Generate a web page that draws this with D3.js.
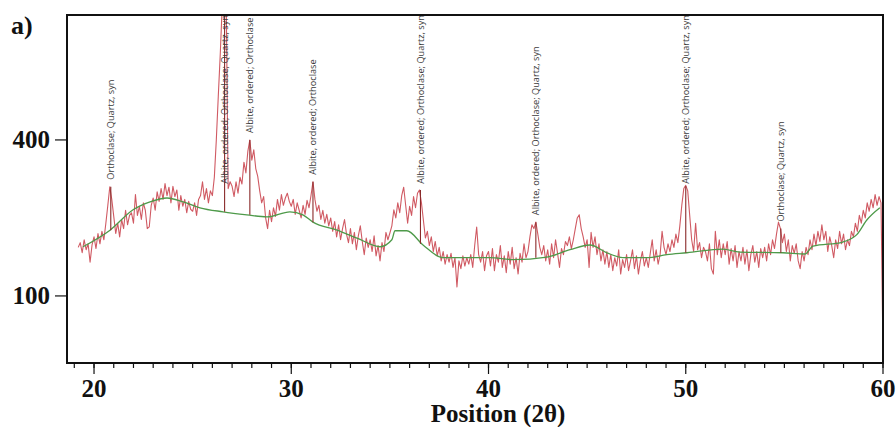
<!DOCTYPE html>
<html>
<head>
<meta charset="utf-8">
<script src="https://cdn.jsdelivr.net/npm/d3@7/dist/d3.min.js"></script>
<style>
  body { margin: 0; background: #fff; }
  svg { display: block; }
</style>
</head>
<body>
<svg id="chart" width="896" height="427"></svg>
<script>
// Scan grid (°2θ) and measured counts, one row per degree
const scanStart = 19.2;
const scanStep = 0.1;
const counts = [
  172,180,163,185,168,178,148,176,                 // 19.2–19.9
  190,170,196,178,200,185,215,250,289,262,         // 20
  228,196,215,190,222,205,240,212,230,235,         // 21
  215,272,230,248,222,255,240,205,208,250,         // 22
  265,240,278,258,285,262,296,270,288,255,         // 23
  290,268,282,240,270,248,262,235,258,242,         // 24
  238,255,230,262,270,300,262,285,255,280,         // 25
  270,310,400,520,650,820,1150,850,285,300,        // 26
  290,268,300,275,310,295,345,320,372,400,         // 27
  350,375,330,312,280,255,268,225,205,240,         // 28
  218,245,228,262,240,272,250,265,275,258,         // 29
  248,262,232,255,240,225,250,232,260,245,         // 30
  270,300,262,238,250,222,240,215,232,210,         // 31
  225,200,218,190,212,185,205,222,195,180,         // 32
  205,178,198,168,192,210,182,160,188,172,         // 33
  185,165,192,158,175,150,180,165,198,185,         // 34
  197,210,241,225,255,235,270,288,250,215,         // 35
  248,230,268,245,275,282,255,220,188,200,         // 36
  175,190,165,182,158,172,150,165,145,160,         // 37
  148,162,140,155,112,150,138,158,142,155,         // 38
  145,160,140,175,208,160,148,165,135,158,         // 39
  165,142,170,135,160,148,175,140,158,132,         // 40
  165,145,172,138,155,130,162,148,178,155,         // 41
  165,190,212,205,217,195,172,160,175,150,         // 42
  168,145,178,155,185,162,140,170,160,182,         // 43
  175,190,170,185,205,225,231,205,190,172,         // 44
  185,140,198,172,190,160,178,150,168,145,         // 45
  165,140,160,135,155,142,168,130,152,140,         // 46
  160,135,150,168,138,158,130,150,165,142,         // 47
  155,140,162,185,150,168,145,160,200,172,         // 48
  160,178,165,185,172,195,180,210,250,285,         // 49
  292,280,230,185,165,215,168,180,155,172,         // 50
  165,150,178,138,130,200,160,185,155,178,         // 51
  160,182,145,170,150,175,140,165,150,172,         // 52
  145,168,135,160,175,148,165,140,170,155,         // 53
  172,150,178,160,185,170,195,217,205,180,         // 54
  195,165,185,150,175,162,178,150,138,165,         // 55
  150,172,160,185,168,195,175,200,182,212,         // 56
  185,200,165,190,175,155,185,170,200,178,         // 57
  195,168,185,175,200,190,215,200,230,215,         // 58
  240,225,255,238,262,245,272,250,268,255,         // 59
  40                                               // 60
];

// Fitted background
const bgAngle  = [19.44,20.81,21.98,22.84,23.70,24.51,25.37,26.54,27.75,28.77,29.93,30.59,31.10,32.32,33.33,34.50,35.10,35.26,35.86,36.68,37.69,38.70,40.07,41.24,42.96,44.13,45.14,46.00,46.81,48.03,49.04,50.06,51.88,52.74,54.92,56.04,56.45,57.96,58.67,59.18,59.84];
const bgCounts = [173,202,241,257,265,257,245,237,231,227,237,231,217,202,188,173,185,201,201,176,155,155,155,152,156,168,176,163,155,155,160,163,169,164,163,161,174,181,194,221,245];

// Identified peaks
const peakAngle = [20.85, 26.62, 27.90, 31.10, 36.55, 42.40, 50.00, 54.82];
const peakTop   = [289, 1150, 400, 300, 282, 217, 290, 205];
const peakBase  = [202, 237, 231, 217, 178, 155, 163, 163];
const peakLabel = [
  "Orthoclase; Quartz, syn",
  "Albite, ordered; Orthoclase; Quartz, syn",
  "Albite, ordered; Orthoclase",
  "Albite, ordered; Orthoclase",
  "Albite, ordered; Orthoclase; Quartz, syn",
  "Albite, ordered; Orthoclase; Quartz, syn",
  "Albite, ordered; Orthoclase; Quartz, syn",
  "Orthoclase; Quartz, syn"
];

const xMajorTicks = [20, 30, 40, 50, 60];
const xMinorTicks = d3.range(19, 61, 1);
const yTicks = [100, 400];

const svg = d3.select("#chart");
const L = 67, R = 883, T = 15, B = 363;
const serif = "'Liberation Serif', 'Times New Roman', serif";

const x = d3.scaleLinear().domain([18.63, 60]).range([L, R]);
const y = d3.scaleSqrt().domain([32.5, 784.5]).range([B, T]);

svg.append("defs").append("clipPath").attr("id", "plotClip")
  .append("rect").attr("x", L).attr("y", T).attr("width", R - L).attr("height", B - T);

const plot = svg.append("g").attr("clip-path", "url(#plotClip)");

const scan = counts.map((c, i) => [scanStart + i * scanStep, c]);
const line = d3.line().x(d => x(d[0])).y(d => y(d[1]));

plot.append("path").datum(scan)
  .attr("d", line).attr("fill", "none")
  .attr("stroke", "#d05a63").attr("stroke-width", 1.1).attr("stroke-linejoin", "round");

plot.append("path").datum(bgAngle.map((a, i) => [a, bgCounts[i]]))
  .attr("d", d3.line().curve(d3.curveMonotoneX).x(d => x(d[0])).y(d => y(d[1])))
  .attr("fill", "none").attr("stroke", "#4e9a4a").attr("stroke-width", 1.3);

// Peak sticks
plot.selectAll("line.stick").data(peakAngle).join("line")
  .attr("class", "stick")
  .attr("x1", d => x(d)).attr("x2", d => x(d))
  .attr("y1", (d, i) => y(peakTop[i])).attr("y2", (d, i) => y(peakBase[i]))
  .attr("stroke", "#8a2a2a").attr("stroke-width", 1.1);

// Peak labels, rotated, kept inside the plot frame
const labels = plot.selectAll("text.peak").data(peakAngle).join("text")
  .attr("class", "peak")
  .attr("font-family", "'Open Sans', 'Noto Sans', sans-serif")
  .attr("font-size", 9.2)
  .attr("fill", "#3c3c3c")
  .text((d, i) => peakLabel[i]);
labels.each(function (d, i) {
  const len = this.getComputedTextLength();
  const bottom = Math.max(y(peakTop[i]) - 7, T + len);
  d3.select(this)
    .attr("transform", `translate(${x(d) + 3.2},${bottom}) rotate(-90)`);
});

// Frame
svg.append("rect").attr("x", L).attr("y", T).attr("width", R - L).attr("height", B - T)
  .attr("fill", "none").attr("stroke", "#111").attr("stroke-width", 2);

// X axis ticks
svg.selectAll("line.xminor").data(xMinorTicks).join("line")
  .attr("x1", d => x(d)).attr("x2", d => x(d))
  .attr("y1", B).attr("y2", B + 5)
  .attr("stroke", "#111").attr("stroke-width", 1.2);
svg.selectAll("line.xmajor").data(xMajorTicks).join("line")
  .attr("x1", d => x(d)).attr("x2", d => x(d))
  .attr("y1", B).attr("y2", B + 11)
  .attr("stroke", "#111").attr("stroke-width", 1.2);
svg.selectAll("text.xlab").data(xMajorTicks).join("text")
  .attr("x", d => x(d)).attr("y", 397)
  .attr("text-anchor", "middle")
  .attr("font-family", serif)
  .attr("font-weight", "bold").attr("font-size", 25)
  .attr("fill", "#111").text(d => d);

// Y axis ticks
svg.selectAll("line.ytick").data(yTicks).join("line")
  .attr("x1", L - 12).attr("x2", L)
  .attr("y1", d => y(d)).attr("y2", d => y(d))
  .attr("stroke", "#111").attr("stroke-width", 1.2);
svg.selectAll("text.ylab").data(yTicks).join("text")
  .attr("x", 50).attr("y", d => y(d) + 8)
  .attr("text-anchor", "end")
  .attr("font-family", serif)
  .attr("font-weight", "bold").attr("font-size", 25)
  .attr("fill", "#111").text(d => d);

// Titles
svg.append("text").attr("x", 498).attr("y", 422)
  .attr("text-anchor", "middle")
  .attr("font-family", serif)
  .attr("font-weight", "bold").attr("font-size", 25)
  .attr("fill", "#111").text("Position (2θ)");

svg.append("text").attr("x", 11).attr("y", 34)
  .attr("font-family", serif)
  .attr("font-weight", "bold").attr("font-size", 26)
  .attr("fill", "#111").text("a)");
</script>
</body>
</html>
